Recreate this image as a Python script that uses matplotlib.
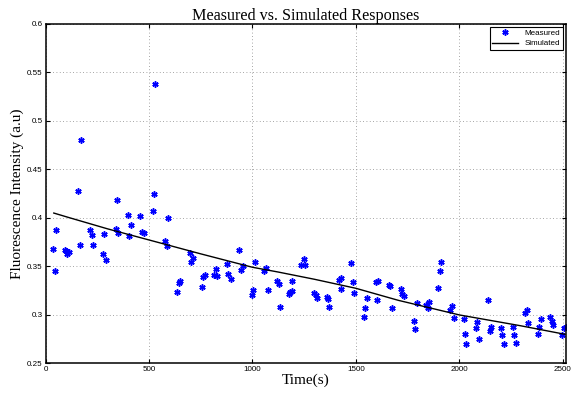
import matplotlib.pyplot as plt

# measured samples (time in s, intensity in a.u.)
t_meas = [38, 44, 52, 95, 99, 105, 112, 157, 165, 172, 217, 225, 231, 278, 284, 293,
          339, 344, 352, 397, 405, 412, 459, 467, 475, 518, 526, 531, 578, 586, 592,
          637, 645, 652, 699, 705, 713, 757, 763, 771, 816, 824, 828, 879, 884, 894,
          937, 945, 954, 999, 1005, 1013, 1057, 1066, 1073, 1118, 1126, 1134, 1176,
          1182, 1189, 1192, 1237, 1247, 1253, 1298, 1305, 1313, 1360, 1366, 1372,
          1418, 1426, 1427, 1477, 1485, 1493, 1537, 1544, 1553, 1598, 1604, 1609,
          1658, 1666, 1672, 1719, 1725, 1734, 1779, 1785, 1793, 1837, 1846, 1853,
          1898, 1904, 1911, 1956, 1962, 1972, 2020, 2027, 2033, 2078, 2085, 2093,
          2138, 2146, 2153, 2199, 2207, 2214, 2259, 2265, 2274, 2319, 2327, 2333,
          2380, 2386, 2393, 2440, 2446, 2453, 2497, 2504, 2514]
y_meas = [0.3674, 0.3454, 0.3873, 0.3664, 0.366, 0.3626, 0.3643, 0.4278, 0.3722, 0.4801,
          0.3873, 0.3825, 0.3722, 0.3622, 0.3829, 0.3567, 0.388, 0.4186, 0.3842, 0.403,
          0.3811, 0.3928, 0.4021, 0.385, 0.3842, 0.4066, 0.4244, 0.5375, 0.3763, 0.3708,
          0.3994, 0.3234, 0.333, 0.3347, 0.3639, 0.3546, 0.3588, 0.3282, 0.3389, 0.3406,
          0.3409, 0.3468, 0.3396, 0.3526, 0.342, 0.3365, 0.3664, 0.3461, 0.3499, 0.32,
          0.3252, 0.3546, 0.3454, 0.3485, 0.3252, 0.3344, 0.332, 0.3076, 0.3214, 0.3234,
          0.3245, 0.3344, 0.3509, 0.3575, 0.3509, 0.3227, 0.3206, 0.3175, 0.3186, 0.3159,
          0.3082, 0.3358, 0.3375, 0.3262, 0.3533, 0.334, 0.3221, 0.2979, 0.3069, 0.3169,
          0.3334, 0.3151, 0.335, 0.3306, 0.3299, 0.3066, 0.3262, 0.321, 0.3196, 0.2938,
          0.2853, 0.3118, 0.31, 0.3069, 0.3134, 0.3278, 0.345, 0.3546, 0.3048, 0.309,
          0.2963, 0.2953, 0.2801, 0.2695, 0.2859, 0.2925, 0.2753, 0.3155, 0.2835, 0.2873,
          0.2859, 0.2794, 0.2693, 0.2873, 0.2788, 0.2711, 0.3014, 0.3048, 0.2918, 0.2804,
          0.2876, 0.2959, 0.2977, 0.2938, 0.2889, 0.2791, 0.2866, 0.287]

# simulated response
t_sim = [40, 109, 300, 543, 747, 1000, 1124, 1300, 1500, 1705, 2001, 2293, 2510]
y_sim = [0.4048, 0.4004, 0.3885, 0.3746, 0.3629, 0.3489, 0.3440, 0.3365, 0.3272,
         0.3148, 0.2997, 0.2887, 0.2798]

x_ticks = [0, 500, 1000, 1500, 2000, 2500]
y_ticks = [0.25, 0.3, 0.35, 0.4, 0.45, 0.5, 0.55, 0.6]
y_ticklabels = ["0.25", "0.3", "0.35", "0.4", "0.45", "0.5", "0.55", "0.6"]

serif = ["Liberation Serif", "DejaVu Serif"]
sans = ["Liberation Sans", "DejaVu Sans"]

fig = plt.figure(figsize=(5.71, 3.94), dpi=100)
ax = fig.add_axes([0.0797, 0.0782, 0.9115, 0.8616])

ax.plot(t_meas, y_meas, linestyle="none", marker=(6, 2, 0), markersize=4.5,
        markeredgewidth=1.1, color="#0000ff", label="Measured")
ax.plot(t_sim, y_sim, color="black", linewidth=1.0, label="Simulated")

ax.set_xlim(0, 2515)
ax.set_ylim(0.25, 0.6)
ax.set_xticks(x_ticks)
ax.set_yticks(y_ticks)
ax.set_yticklabels(y_ticklabels)
ax.tick_params(direction="in", top=True, right=True, length=3, width=0.8,
               labelsize=5.8, pad=2)
for lab in ax.get_xticklabels() + ax.get_yticklabels():
    lab.set_family(sans)
for sp in ax.spines.values():
    sp.set_linewidth(1.1)

ax.grid(True, linestyle=(0, (1, 3)), color="#888888", linewidth=0.6)

ax.set_title("Measured vs. Simulated Responses", family=serif, fontsize=11.6, pad=3)
ax.set_xlabel("Time(s)", family=serif, fontsize=11, labelpad=0.5)
ax.set_ylabel("Fluorescence Intensity (a.u)", family=serif, fontsize=11, labelpad=2)

leg = ax.legend(loc="upper right", prop={"family": sans, "size": 5.8},
                fancybox=False, edgecolor="black", framealpha=1,
                handlelength=3.2, borderpad=0.35, labelspacing=0.35,
                markerfirst=True, borderaxespad=0.35)
leg.get_frame().set_linewidth(0.8)

fig.savefig("out.png", dpi=100)
